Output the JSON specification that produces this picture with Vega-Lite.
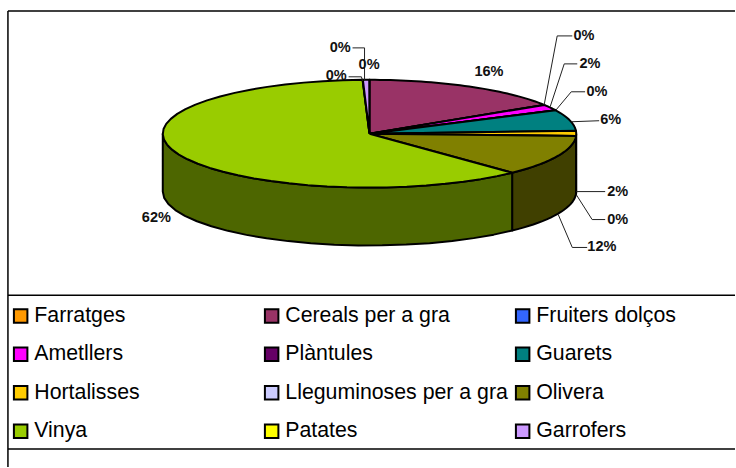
{
"$schema":"https://vega.github.io/schema/vega-lite/v6.json",
"width":736,"height":468,
"autosize":{"type":"fit","contains":"padding"},
"padding":0,
"background":"white",
"config":{"view":{"stroke":null},"font":"Liberation Sans"},
"datasets":{
"slices":[
{"order":1,"slice":"Farratges","value":0.02},
{"order":2,"slice":"Cereals per a gra","value":16.0},
{"order":3,"slice":"Fruiters dolços","value":0.02},
{"order":4,"slice":"Ametllers","value":1.8},
{"order":5,"slice":"Plàntules","value":0.02},
{"order":6,"slice":"Guarets","value":6.3},
{"order":7,"slice":"Hortalisses","value":1.5},
{"order":8,"slice":"Lleguminoses per a gra","value":0.02},
{"order":9,"slice":"Olivera","value":12.2},
{"order":10,"slice":"Vinya","value":61.59},
{"order":11,"slice":"Patates","value":0.02},
{"order":12,"slice":"Garrofers","value":0.49}
],
"labels":[
{"slice":"Farratges","value":0.02,"lx":-0.002,"ly":1.278},
{"slice":"Cereals per a gra","value":16.0,"lx":0.578,"ly":1.148},
{"slice":"Fruiters dolços","value":0.02,"lx":1.037,"ly":1.815},
{"slice":"Ametllers","value":1.8,"lx":1.066,"ly":1.296},
{"slice":"Plàntules","value":0.02,"lx":1.1,"ly":0.778},
{"slice":"Guarets","value":6.3,"lx":1.167,"ly":0.259},
{"slice":"Hortalisses","value":1.5,"lx":1.201,"ly":-1.074},
{"slice":"Lleguminoses per a gra","value":0.02,"lx":1.201,"ly":-1.593},
{"slice":"Olivera","value":12.2,"lx":1.124,"ly":-2.111},
{"slice":"Vinya","value":61.59,"lx":-1.031,"ly":-1.556},
{"slice":"Patates","value":0.02,"lx":-0.161,"ly":1.074},
{"slice":"Garrofers","value":0.49,"lx":-0.142,"ly":1.593}
],
"leaders":[
{"slice":"Garrofers","step":1,"lx":-0.082,"ly":1.593},{"slice":"Garrofers","step":2,"lx":-0.024,"ly":1.593},{"slice":"Garrofers","step":3,"lx":-0.024,"ly":0.981},
{"slice":"Patates","step":1,"lx":-0.101,"ly":1.056},{"slice":"Patates","step":2,"lx":-0.039,"ly":1.056},{"slice":"Patates","step":3,"lx":-0.034,"ly":0.981},
{"slice":"Fruiters dolços","step":1,"lx":0.981,"ly":1.815},{"slice":"Fruiters dolços","step":2,"lx":0.908,"ly":1.815},{"slice":"Fruiters dolços","step":3,"lx":0.845,"ly":0.537},
{"slice":"Ametllers","step":1,"lx":1.005,"ly":1.296},{"slice":"Ametllers","step":2,"lx":0.942,"ly":1.296},{"slice":"Ametllers","step":3,"lx":0.874,"ly":0.5},
{"slice":"Plàntules","step":1,"lx":1.043,"ly":0.778},{"slice":"Plàntules","step":2,"lx":0.976,"ly":0.778},{"slice":"Plàntules","step":3,"lx":0.903,"ly":0.444},
{"slice":"Guarets","step":1,"lx":1.111,"ly":0.241},{"slice":"Guarets","step":2,"lx":0.976,"ly":0.222},
{"slice":"Hortalisses","step":1,"lx":1.14,"ly":-1.074},{"slice":"Hortalisses","step":2,"lx":1.0,"ly":-1.074},
{"slice":"Lleguminoses per a gra","step":1,"lx":1.14,"ly":-1.593},{"slice":"Lleguminoses per a gra","step":2,"lx":1.077,"ly":-1.593},{"slice":"Lleguminoses per a gra","step":3,"lx":1.0,"ly":-1.13},
{"slice":"Olivera","step":1,"lx":1.053,"ly":-2.111},{"slice":"Olivera","step":2,"lx":0.981,"ly":-2.111},{"slice":"Olivera","step":3,"lx":0.913,"ly":-1.5}
],
"frame":[
{"x":-1.749,"x2":1.7681,"y":2.278,"y2":2.278},
{"x":-1.749,"x2":1.7681,"y":-3.0,"y2":-3.0},
{"x":-1.749,"x2":1.7681,"y":-5.852,"y2":-5.852},
{"x":-1.749,"x2":-1.749,"y":2.278,"y2":-6.1852}
]
},
"layer":[
{
"data":{"name":"frame"},
"mark":{"type":"rule","stroke":"black","strokeWidth":1.5},
"encoding":{
"x":{"field":"x","type":"quantitative","scale":{"domain":[-1.7874,1.7681]},"axis":null},
"x2":{"field":"x2"},
"y":{"field":"y","type":"quantitative","scale":{"domain":[-6.1852,2.4815]},"axis":null},
"y2":{"field":"y2"}
}
},
{
"data":{"name":"slices"},
"transform":[
{"stack":"value","sort":[{"field":"order","order":"ascending"}],"groupby":[],"as":["v0","v1"]},
{"calculate":"max(datum.v0/100*2*PI,PI/2)","as":"a0"},
{"calculate":"min(datum.v1/100*2*PI,3*PI/2)","as":"a1"},
{"filter":"datum.a1>datum.a0"},
{"calculate":"sequence(0,43)","as":"idx"},
{"flatten":["idx"]},
{"calculate":"datum.idx<=20?datum.idx/20:datum.idx<=41?(41-datum.idx)/20:0","as":"f"},
{"calculate":"datum.a0+(datum.a1-datum.a0)*datum.f","as":"th"},
{"calculate":"sin(datum.th)","as":"px"},
{"calculate":"cos(datum.th)-((datum.idx>=21&&datum.idx<=41)?1.074:0)","as":"py"}
],
"mark":{"type":"line","stroke":"black","strokeWidth":2,"strokeJoin":"round"},
"encoding":{
"x":{"field":"px","type":"quantitative","scale":{"domain":[-1.7874,1.7681]},"axis":null},
"y":{"field":"py","type":"quantitative","scale":{"domain":[-6.1852,2.4815]},"axis":null},
"order":{"field":"idx","type":"quantitative"},
"fill":{"field":"slice","type":"nominal","legend":null,"scale":{"domain":["Hortalisses","Lleguminoses per a gra","Olivera","Vinya"],"range":["#806600","#666680","#404000","#4d6600"]}}
}
},
{
"data":{"name":"slices"},
"transform":[
{"stack":"value","sort":[{"field":"order","order":"ascending"}],"groupby":[],"as":["v0","v1"]},
{"calculate":"datum.v0/100*2*PI","as":"a0"},
{"calculate":"datum.v1/100*2*PI","as":"a1"},
{"calculate":"sequence(0,43)","as":"idx"},
{"flatten":["idx"]},
{"calculate":"(datum.idx-1)/40","as":"f"},
{"calculate":"datum.a0+(datum.a1-datum.a0)*datum.f","as":"th"},
{"calculate":"(datum.idx==0||datum.idx==42)?0:1","as":"r"},
{"calculate":"datum.r*sin(datum.th)","as":"px"},
{"calculate":"datum.r*cos(datum.th)","as":"py"}
],
"mark":{"type":"line","stroke":"black","strokeWidth":2,"strokeJoin":"round"},
"encoding":{
"x":{"field":"px","type":"quantitative","scale":{"domain":[-1.7874,1.7681]},"axis":null},
"y":{"field":"py","type":"quantitative","scale":{"domain":[-6.1852,2.4815]},"axis":null},
"order":{"field":"idx","type":"quantitative"},
"fill":{"field":"slice","type":"nominal",
"scale":{"domain":["Farratges","Cereals per a gra","Fruiters dolços","Ametllers","Plàntules","Guarets","Hortalisses","Lleguminoses per a gra","Olivera","Vinya","Patates","Garrofers"],
"range":["#FF9900","#993366","#3366FF","#FF00FF","#660066","#008080","#FFCC00","#CCCCFF","#808000","#99CC00","#FFFF00","#CC99FF"]},
"legend":{"title":null,"orient":"none","legendX":10,"legendY":305,"direction":"horizontal","columns":3,"gridAlign":"all","columnPadding":3,"rowPadding":15.5,"padding":0,"symbolType":"square","symbolSize":182,"symbolStrokeColor":"black","symbolStrokeWidth":2,"symbolOpacity":1,"labelFont":"Liberation Sans","labelFontSize":21.3,"labelColor":"black","labelLimit":300,"labelOffset":3,"symbolLimit":12}}
}
},
{
"data":{"name":"leaders"},
"mark":{"type":"line","stroke":"#222222","strokeWidth":1},
"encoding":{
"x":{"field":"lx","type":"quantitative","scale":{"domain":[-1.7874,1.7681]},"axis":null},
"y":{"field":"ly","type":"quantitative","scale":{"domain":[-6.1852,2.4815]},"axis":null},
"detail":{"field":"slice"},
"order":{"field":"step","type":"quantitative"}
}
},
{
"data":{"name":"labels"},
"transform":[{"calculate":"datum.value/100","as":"share"}],
"mark":{"type":"text","font":"Liberation Sans","fontSize":14.5,"fontWeight":"bold","color":"#111111","align":"center","baseline":"middle"},
"encoding":{
"x":{"field":"lx","type":"quantitative","scale":{"domain":[-1.7874,1.7681]},"axis":null},
"y":{"field":"ly","type":"quantitative","scale":{"domain":[-6.1852,2.4815]},"axis":null},
"text":{"field":"share","type":"quantitative","format":".0%"}
}
}
],
"resolve":{"scale":{"fill":"independent"}}
}
